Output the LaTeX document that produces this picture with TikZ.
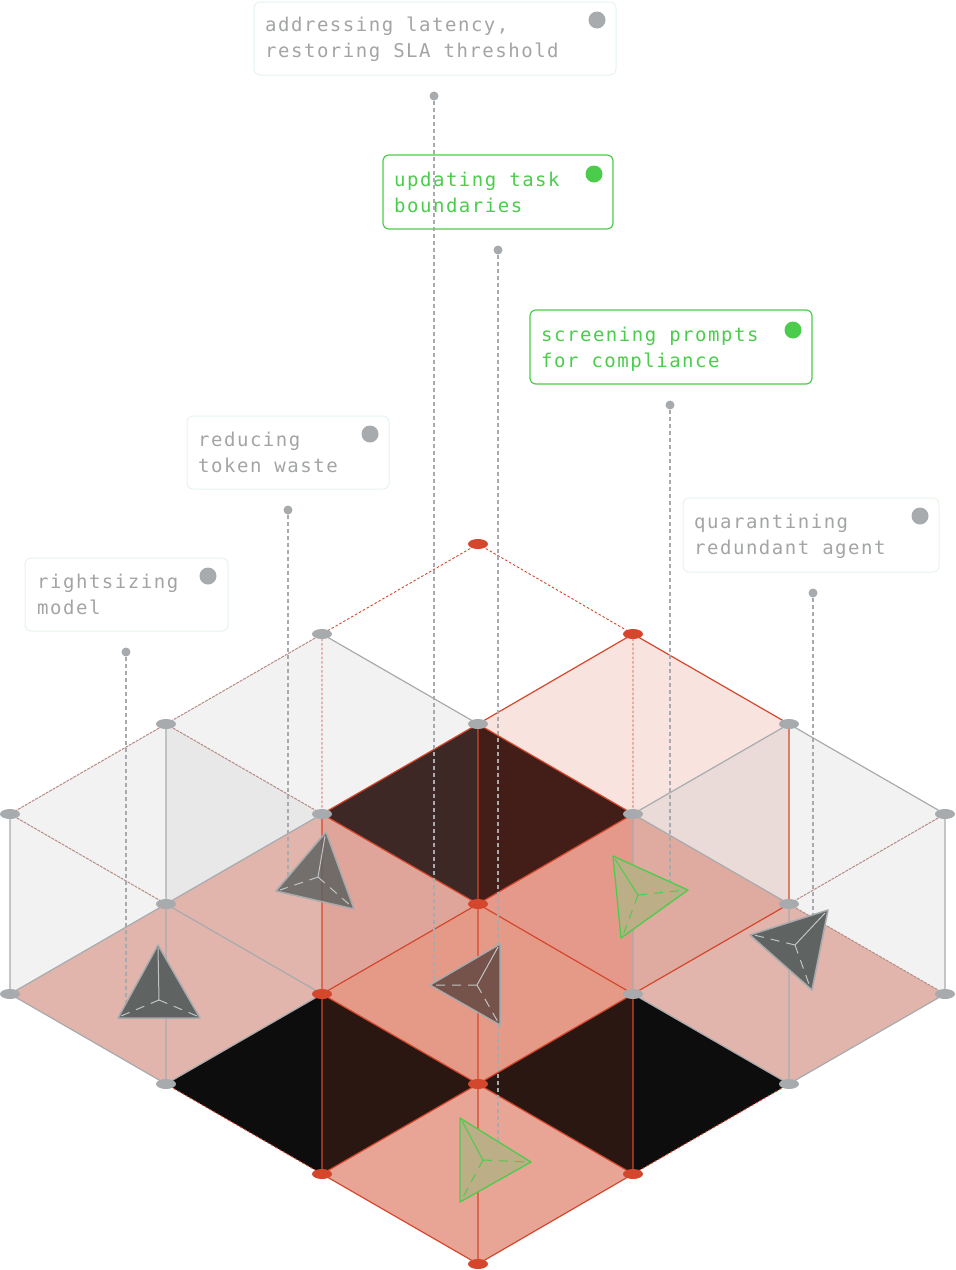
\documentclass[tikz,border=0pt]{standalone}
\usepackage{fontspec}
\setmainfont{DejaVu Sans Mono}[LetterSpace=8]
\usetikzlibrary{calc,shapes.geometric}
\definecolor{rd}{HTML}{D4472C}
\definecolor{gy}{HTML}{A8ABAD}
\definecolor{gtxt}{HTML}{A2A4A6}
\definecolor{grn}{HTML}{4CCC4C}
\definecolor{lbor}{HTML}{E6F4E8}
\definecolor{tdark}{HTML}{5F6361}
\definecolor{tgrn}{HTML}{BCAE86}
\tikzset{
 rl/.style={draw=rd,line width=1.2pt},
 gl/.style={draw=gy,line width=1.2pt},
 ml/.style={draw=gy!70!rd,line width=1pt,dash pattern=on 3pt off 1pt},
 rdash/.style={draw=rd,line width=0.9pt,dash pattern=on 2.5pt off 2pt},
 vdot/.style={ellipse,minimum width=20pt,minimum height=10pt,inner sep=0pt},
 gv/.style={vdot,fill=gy},
 rv/.style={vdot,fill=rd},
 ldot/.style={circle,fill=gy,minimum size=9pt,inner sep=0pt},
 lead/.style={draw=gy,line width=1.3pt,dash pattern=on 4pt off 3pt},
 lbox/.style={draw=lbor,line width=1pt,rounded corners=6pt},
 gbox/.style={draw=grn,line width=1.2pt,rounded corners=6pt},
 ltxt/.style={anchor=north west,inner sep=0pt,font=\fontsize{19}{26}\selectfont,align=left,text=gtxt},
 gtext/.style={ltxt,text=grn},
 bdot/.style={circle,minimum size=17pt,inner sep=0pt},
 tet/.style={draw=gy,line width=1.5pt,fill=tdark,line join=round},
 tetg/.style={draw=grn,line width=1.3pt,fill=tgrn,line join=round},
 inl/.style={draw=gy!70!white,line width=1pt,dash pattern=on 9pt off 7pt},
 inlg/.style={draw=grn,line width=1pt,dash pattern=on 9pt off 7pt},
}
\begin{document}
\begin{tikzpicture}[x=1pt,y=-1pt]
\useasboundingbox (0,0) rectangle (956,1270);
% grid points
\coordinate (A) at (478,544);
\coordinate (B) at (322,634); \coordinate (C) at (633,634);
\coordinate (D) at (166,724); \coordinate (E) at (478,724); \coordinate (F) at (789,724);
\coordinate (G) at (10,814); \coordinate (H) at (322,814); \coordinate (I) at (633,814); \coordinate (J) at (945,814);
\coordinate (K) at (166,904); \coordinate (L) at (478,904); \coordinate (M) at (789,904);
\coordinate (N) at (10,994); \coordinate (O) at (322,994); \coordinate (P) at (633,994); \coordinate (Q) at (945,994);
\coordinate (R) at (166,1084); \coordinate (S) at (478,1084); \coordinate (T) at (789,1084);
\coordinate (U) at (322,1174); \coordinate (V) at (633,1174);
\coordinate (W) at (478,1264);
% fills
\fill[fill={rgb,255:red,242;green,242;blue,242}] (B)--(E)--(H)--(D)--cycle;
\fill[fill={rgb,255:red,242;green,242;blue,242}] (G)--(D)--(K)--(N)--cycle;
\fill[fill={rgb,255:red,242;green,242;blue,242}] (F)--(J)--(Q)--(M)--cycle;
\fill[fill={rgb,255:red,232;green,232;blue,232}] (D)--(H)--(K)--cycle;
\fill[fill={rgb,255:red,234;green,219;blue,216}] (I)--(F)--(M)--cycle;
\fill[fill={rgb,255:red,248;green,227;blue,222}] (E)--(C)--(F)--(I)--cycle;
\fill[fill={rgb,255:red,225;green,180;blue,172}] (N)--(K)--(H)--(O)--(R)--cycle;
\fill[fill={rgb,255:red,225;green,180;blue,172}] (P)--(M)--(Q)--(T)--cycle;
\fill[fill={rgb,255:red,61;green,40;blue,38}] (H)--(E)--(L)--cycle;
\fill[fill={rgb,255:red,67;green,29;blue,23}] (E)--(I)--(L)--cycle;
\fill[fill={rgb,255:red,224;green,165;blue,154}] (H)--(L)--(O)--cycle;
\fill[fill={rgb,255:red,229;green,153;blue,138}] (L)--(I)--(P)--cycle;
\fill[fill={rgb,255:red,223;green,170;blue,159}] (I)--(M)--(P)--cycle;
\fill[fill={rgb,255:red,229;green,154;blue,136}] (O)--(L)--(P)--(S)--cycle;
\fill[fill={rgb,255:red,232;green,165;blue,150}] (U)--(S)--(V)--(W)--cycle;
\fill[fill={rgb,255:red,13;green,13;blue,13}] (R)--(O)--(U)--cycle;
\fill[fill={rgb,255:red,42;green,23;blue,18}] (O)--(S)--(U)--cycle;
\fill[fill={rgb,255:red,42;green,23;blue,18}] (S)--(P)--(V)--cycle;
\fill[fill={rgb,255:red,13;green,13;blue,13}] (P)--(T)--(V)--cycle;
% grey lines
\draw[gl] (D)--(K)--(R) (G)--(N) (N)--(K)--(H) (N)--(R)--(O) (K)--(O)
 (I)--(P) (M)--(T) (J)--(Q) (P)--(T)--(Q) (B)--(E) (I)--(F)--(J) (I)--(M);
% mixed lines
\draw[ml] (B)--(D)--(G)--(K) (D)--(H) (M)--(Q) (J)--(M);
\draw[rdash] (R)--(U) (T)--(V) (A)--(B) (A)--(C) (B)--(H) (C)--(I);
% red lines
\draw[rl] (E)--(C)--(F) (H)--(E)--(L)--(H) (I)--(L)--(O) (L)--(P) (O)--(S)--(P)
 (U)--(S)--(V) (U)--(W)--(V) (H)--(U) (E)--(W) (P)--(V) (F)--(M) (P)--(M) (E)--(I);
% vertex dots
\foreach \p in {B,D,E,F,G,H,I,J,K,M,N,P,Q,R,T} \node[gv] (d\p) at (\p) {};
\foreach \p in {A,C,L,O,S,U,V,W} \node[rv] (d\p) at (\p) {};
% labels
\draw[lbox] (254,2) rectangle (616,75);
\node[ltxt] (t1) at (265,17) {addressing latency,\\restoring SLA threshold};
\node[bdot,fill=gy] (b1) at (597,20) {};
\draw[gbox] (383,155) rectangle (613,229);
\node[gtext] (t2) at (394,172) {updating task\\boundaries};
\node[bdot,fill=grn] (b2) at (594,174) {};
\draw[gbox] (530,310) rectangle (812,384);
\node[gtext] (t3) at (541,327) {screening prompts\\for compliance};
\node[bdot,fill=grn] (b3) at (793,330) {};
\draw[lbox] (187,416) rectangle (389,489);
\node[ltxt] (t4) at (198,432) {reducing\\token waste};
\node[bdot,fill=gy] (b4) at (370,434) {};
\draw[lbox] (683,498) rectangle (939,572);
\node[ltxt] (t5) at (694,514) {quarantining\\redundant agent};
\node[bdot,fill=gy] (b5) at (920,516) {};
\draw[lbox] (25,558) rectangle (228,631);
\node[ltxt] (t6) at (37,574) {rightsizing\\model};
\node[bdot,fill=gy] (b6) at (208,576) {};
% leaders
\node[ldot] (l1) at (434,96) {}; \coordinate (e1) at (434,985);
\node[ldot] (l2) at (498,250) {}; \coordinate (e2) at (498,1160);
\node[ldot] (l3) at (670,405) {}; \coordinate (e3) at (670,890);
\node[ldot] (l4) at (288,510) {}; \coordinate (e4) at (288,880);
\node[ldot] (l5) at (813,593) {}; \coordinate (e5) at (813,955);
\node[ldot] (l6) at (126,652) {}; \coordinate (e6) at (126,1012);
\foreach \i in {1,...,6} \draw[lead] (l\i)--(e\i);
% tetrahedra
\draw[tet] (158,945)--(200,1018)--(118,1018)--cycle;
\coordinate (c1) at (159,1000);
\draw[draw=gy!70!white,line width=1pt] (158,948)--(c1);
\draw[inl] (c1)--(121,1016) (c1)--(197,1016);
\draw[tet,fill opacity=0.85] (326,832)--(354,909)--(276,891)--cycle;
\coordinate (c2) at (318,877);
\draw[draw=gy!70!white,line width=1pt] (325,836)--(c2);
\draw[inl] (c2)--(280,890) (c2)--(351,906);
\draw[tet,fill={rgb,255:red,117;green,82;blue,74}] (500,944)--(500,1025)--(430,985)--cycle;
\coordinate (c3) at (477,985);
\draw[draw=gy!70!white,line width=1pt] (498,947)--(c3);
\draw[inl] (c3)--(434,985) (c3)--(498,1022);
\draw[tet] (828,910)--(812,990)--(750,935)--cycle;
\coordinate (c5) at (795,945);
\draw[draw=gy!70!white,line width=1pt] (825,913)--(c5);
\draw[inl] (c5)--(754,935) (c5)--(810,987);
\draw[tetg] (613,856)--(688,890)--(621,938)--cycle;
\coordinate (c4) at (638,895);
\draw[draw=grn,line width=1pt] (615,859)--(c4);
\draw[inlg] (c4)--(685,890) (c4)--(623,935);
\draw[tetg] (460,1118)--(531,1162)--(460,1202)--cycle;
\coordinate (c6) at (483,1160);
\draw[draw=grn,line width=1pt] (462,1121)--(c6);
\draw[inlg] (c6)--(528,1162) (c6)--(462,1199);
\end{tikzpicture}
\end{document}
